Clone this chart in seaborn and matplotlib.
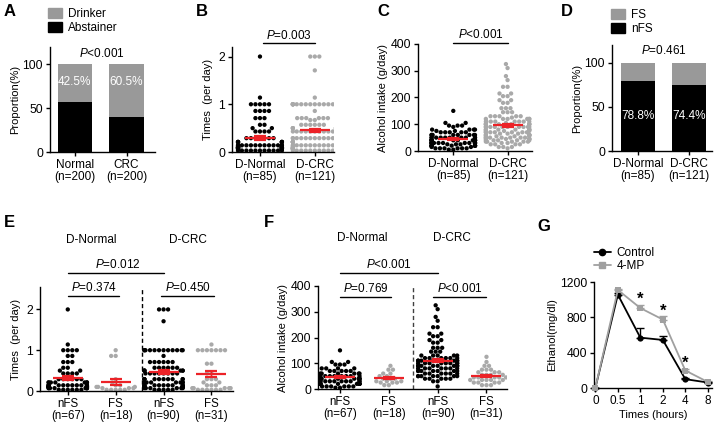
import warnings
import numpy as np
import pandas as pd
import seaborn as sns
import matplotlib.pyplot as plt
from matplotlib.patches import Patch
from matplotlib.lines import Line2D
from matplotlib.ticker import NullLocator

warnings.filterwarnings('ignore')

# ---- data ----
# A: drinker share
a_groups = ['Normal\n(n=200)', 'CRC\n(n=200)']
a_drinker = [42.5, 60.5]

# D: nFS share among drinkers
d_groups = ['D-Normal\n(n=85)', 'D-CRC\n(n=121)']
d_nfs = [78.8, 74.4]

# E: drinking times per day (value levels + counts)
e_labels = ['nFS\n(n=67)', 'FS\n(n=18)', 'nFS\n(n=90)', 'FS\n(n=31)']
e_nfs_normal_vals = [2.0, 1.14, 1.0, 0.86, 0.71, 0.57, 0.5, 0.43, 0.29, 0.21, 0.14, 0.1, 0.07, 0.03]
e_nfs_normal_cnt = [1, 1, 4, 2, 3, 2, 2, 4, 6, 7, 11, 10, 8, 6]
e_fs_normal_vals = [1.0, 0.86, 0.29, 0.21, 0.14, 0.1, 0.07, 0.03]
e_fs_normal_cnt = [1, 2, 1, 1, 2, 3, 3, 5]
e_nfs_crc_vals = [2.0, 1.71, 1.0, 0.86, 0.71, 0.57, 0.5, 0.43, 0.29, 0.21, 0.14, 0.1, 0.07, 0.03]
e_nfs_crc_cnt = [3, 1, 12, 1, 6, 6, 6, 8, 10, 8, 10, 8, 6, 5]
e_fs_crc_vals = [1.14, 1.0, 0.67, 0.43, 0.29, 0.21, 0.14, 0.07, 0.03]
e_fs_crc_cnt = [1, 7, 2, 2, 3, 2, 3, 5, 6]

# F: alcohol intake g/day (value levels + counts)
f_nfs_normal_vals = [150, 105, 95, 80, 70, 60, 50, 40, 30, 20, 10, 5]
f_nfs_normal_cnt = [1, 2, 3, 4, 5, 6, 8, 10, 10, 10, 6, 2]
f_fs_normal_vals = [90, 75, 60, 50, 40, 30, 25, 15]
f_fs_normal_cnt = [1, 2, 2, 2, 3, 3, 3, 2]
f_nfs_crc_vals = [325, 310, 280, 265, 240, 215, 205, 190, 180, 160, 145, 130, 120,
                  110, 100, 90, 80, 70, 60, 50, 40, 30, 10]
f_nfs_crc_cnt = [1, 1, 1, 1, 2, 2, 2, 2, 2, 3, 3, 5, 6, 8, 8, 8, 7, 7, 6, 7, 5, 2, 1]
f_fs_crc_vals = [125, 105, 90, 75, 65, 55, 45, 35, 25, 15]
f_fs_crc_cnt = [1, 1, 2, 3, 3, 4, 5, 5, 4, 3]

# G: blood ethanol
g_times = [0, 0.5, 1, 2, 4, 8]
g_control = [0, 1057, 570, 544, 100, 62]
g_control_err = [0, 20, 105, 45, 10, 8]
g_4mp = [0, 1110, 905, 775, 198, 68]
g_4mp_err = [0, 15, 30, 38, 12, 8]

GRAY = '#999999'
DOT_GRAY = '#a9a9a9'
RED = '#ec2227'

sns.set_style('ticks')
plt.rcParams['font.family'] = ['Liberation Sans', 'DejaVu Sans']
plt.rcParams['mathtext.fontset'] = 'custom'
plt.rcParams['mathtext.rm'] = 'Liberation Sans'
plt.rcParams['mathtext.it'] = 'Liberation Sans:italic'
plt.rcParams['font.size'] = 8
plt.rcParams['text.color'] = 'black'
plt.rcParams['axes.labelcolor'] = 'black'
plt.rcParams['xtick.color'] = 'black'
plt.rcParams['ytick.color'] = 'black'
plt.rcParams['axes.edgecolor'] = 'black'
plt.rcParams['xtick.major.size'] = 3
plt.rcParams['ytick.major.size'] = 3

W, H = 720, 423
fig = plt.figure(figsize=(7.2, 4.23), dpi=100)


def px_axes(l, t, r, b):
    return fig.add_axes([l / W, 1 - b / H, (r - l) / W, (b - t) / H])


def expand(vals, cnt):
    return np.repeat(vals, cnt)


def style(ax, xsize=8.5):
    sns.despine(ax=ax)
    ax.tick_params(axis='y', labelsize=8.8, width=1, pad=2)
    ax.tick_params(axis='x', labelsize=xsize, width=1, pad=2)
    for s in ['left', 'bottom']:
        ax.spines[s].set_linewidth(1)
    for lbl in ax.get_xticklabels():
        lbl.set_linespacing(1.0)


def ptext(ax, x, y, s):
    ax.text(x, y, s, ha='center', va='bottom', fontsize=8.5, clip_on=False)


def pline(ax, x0, x1, y):
    ax.plot([x0, x1], [y, y], color='black', lw=1, clip_on=False)


def stacked(ax, groups, bottom_vals, labels_y, label_vals):
    df = pd.DataFrame({'group': groups, 'total': [100] * len(groups), 'bottom': bottom_vals})
    sns.barplot(data=df, x='group', y='total', color=GRAY, width=0.66, ax=ax,
                saturation=1, linewidth=0)
    sns.barplot(data=df, x='group', y='bottom', color='black', width=0.66, ax=ax,
                saturation=1, linewidth=0)
    for i, v in enumerate(label_vals):
        ax.text(i, labels_y, f'{v}%', ha='center', va='center', color='white', fontsize=8.5)
    ax.set_ylim(0, 120)
    ax.set_yticks([0, 50, 100])
    ax.set_xlabel('')
    ax.set_ylabel('Proportion(%)', labelpad=2)
    style(ax)


def dots(ax, df, order, colors, size=3.1, xsize=8.5):
    sns.swarmplot(data=df, x='group', y='value', hue='group', order=order, hue_order=order,
                  palette=dict(zip(order, colors)), size=size, ax=ax, legend=False,
                  linewidth=0, zorder=1)
    stats = df.groupby('group')['value'].agg(['mean', 'sem']).reindex(order)
    ax.errorbar(range(len(order)), stats['mean'], yerr=stats['sem'], fmt='_', ms=21, mew=1.6,
                color=RED, ecolor=RED, elinewidth=1, capsize=4, capthick=1, zorder=5)
    ax.set_xlabel('')
    style(ax, xsize)


# ---- A ----
axA = px_axes(50, 47, 155, 152)
stacked(axA, a_groups, [100 - v for v in a_drinker], 80, a_drinker)
axA.set_xlim(-0.48, 1.55)
axA.text(0.52, 113, '$P$<0.001', ha='center', va='center', fontsize=8.5)
fig.legend(handles=[Patch(color=GRAY, label='Drinker'), Patch(color='black', label='Abstainer')],
           loc='upper left', bbox_to_anchor=(48 / W, 1 - 8 / H), frameon=False, fontsize=8.5,
           handlelength=1.2, handleheight=0.9, handletextpad=0.5, labelspacing=0.15,
           borderaxespad=0, borderpad=0)

# ---- D ----
axD = px_axes(612, 45, 712, 151)
stacked(axD, d_groups, d_nfs, 40, d_nfs)
axD.set_xlim(-0.5, 1.44)
axD.text(0.5, 114, '$P$=0.461', ha='center', va='center', fontsize=8.5)
fig.legend(handles=[Patch(color=GRAY, label='FS'), Patch(color='black', label='nFS')],
           loc='upper left', bbox_to_anchor=(611 / W, 1 - 9 / H), frameon=False, fontsize=8.5,
           handlelength=1.2, handleheight=0.9, handletextpad=0.5, labelspacing=0.15,
           borderaxespad=0, borderpad=0)

# ---- long tables for the dot plots ----
e_df = pd.DataFrame({
    'group': np.repeat(e_labels, [sum(e_nfs_normal_cnt), sum(e_fs_normal_cnt),
                                  sum(e_nfs_crc_cnt), sum(e_fs_crc_cnt)]),
    'value': np.concatenate([expand(e_nfs_normal_vals, e_nfs_normal_cnt),
                             expand(e_fs_normal_vals, e_fs_normal_cnt),
                             expand(e_nfs_crc_vals, e_nfs_crc_cnt),
                             expand(e_fs_crc_vals, e_fs_crc_cnt)]),
})
f_df = pd.DataFrame({
    'group': np.repeat(e_labels, [sum(f_nfs_normal_cnt), sum(f_fs_normal_cnt),
                                  sum(f_nfs_crc_cnt), sum(f_fs_crc_cnt)]),
    'value': np.concatenate([expand(f_nfs_normal_vals, f_nfs_normal_cnt),
                             expand(f_fs_normal_vals, f_fs_normal_cnt),
                             expand(f_nfs_crc_vals, f_nfs_crc_cnt),
                             expand(f_fs_crc_vals, f_fs_crc_cnt)]),
})
four_colors = ['black', DOT_GRAY, 'black', DOT_GRAY]

# B and C pool nFS + FS per group
b_order = ['D-Normal\n(n=85)', 'D-CRC\n(n=121)']
pool = {e_labels[0]: b_order[0], e_labels[1]: b_order[0], e_labels[2]: b_order[1], e_labels[3]: b_order[1]}
b_df = e_df.assign(group=e_df['group'].map(pool))
c_df = f_df.assign(group=f_df['group'].map(pool))

# ---- B ----
axB = px_axes(232, 47, 334, 152)
dots(axB, b_df, b_order, ['black', DOT_GRAY])
axB.set_xlim(-0.51, 1.35)
axB.set_ylim(0, 2.2)
axB.set_yticks([0, 1, 2])
axB.set_ylabel('Times  (per day)', labelpad=4)
pline(axB, 0.05, 1.0, 2.28)
ptext(axB, 0.52, 2.31, '$P$=0.003')

# ---- C ----
axC = px_axes(418, 44, 532, 151)
dots(axC, c_df, b_order, ['black', DOT_GRAY])
axC.set_xlim(-0.65, 1.45)
axC.set_ylim(0, 400)
axC.set_yticks([0, 100, 200, 300, 400])
axC.set_ylabel('Alcohol intake (g/day)', labelpad=2)
pline(axC, 0.0, 1.0, 404)
ptext(axC, 0.5, 412, '$P$<0.001')

# ---- E ----
axE = px_axes(40, 287, 233, 391)
dots(axE, e_df, e_labels, four_colors, xsize=8.3)
axE.set_xlim(-0.58, 3.45)
axE.set_ylim(0, 2.55)
axE.set_yticks([0, 1, 2])
axE.set_ylabel('Times  (per day)', labelpad=4)
axE.axvline(1.55, color='black', ls=(0, (3, 2)), lw=1)
pline(axE, 0, 2, 2.9)
ptext(axE, 1.05, 2.95, '$P$=0.012')
pline(axE, 0, 1.08, 2.32)
ptext(axE, 0.55, 2.37, '$P$=0.374')
pline(axE, 1.95, 3.05, 2.32)
ptext(axE, 2.5, 2.37, '$P$=0.450')
axE.text(0.5, 3.7, 'D-Normal', ha='center', va='center', fontsize=8.5, clip_on=False)
axE.text(2.5, 3.7, 'D-CRC', ha='center', va='center', fontsize=8.5, clip_on=False)

# ---- F ----
axF = px_axes(318, 286, 507, 389)
dots(axF, f_df, e_labels, four_colors, xsize=8.3)
axF.set_xlim(-0.45, 3.42)
axF.set_ylim(0, 400)
axF.set_yticks([0, 100, 200, 300, 400])
axF.set_ylabel('Alcohol intake (g/day)', labelpad=2)
axF.axvline(1.5, color='0.25', ls=(0, (3, 2)), lw=1)
pline(axF, 0, 2, 450)
ptext(axF, 1.0, 458, '$P$<0.001')
pline(axF, 0, 1.05, 358)
ptext(axF, 0.52, 365, '$P$=0.769')
pline(axF, 1.9, 3.0, 358)
ptext(axF, 2.45, 365, '$P$<0.001')
axF.text(0.45, 585, 'D-Normal', ha='center', va='center', fontsize=8.5, clip_on=False)
axF.text(2.3, 585, 'D-CRC', ha='center', va='center', fontsize=8.5, clip_on=False)

# ---- G ----
axG = px_axes(594, 282, 712, 388)
g_df = pd.DataFrame({
    'time': g_times * 2,
    'ethanol': g_control + g_4mp,
    'group': ['Control'] * len(g_times) + ['4-MP'] * len(g_times),
})
g_colors = {'Control': 'black', '4-MP': '#a0a0a0'}
sns.lineplot(data=g_df, x='time', y='ethanol', hue='group', style='group',
             markers={'Control': 'o', '4-MP': 's'}, dashes=False, palette=g_colors,
             markersize=4.5, markeredgewidth=0, lw=1.3, ax=axG, legend=False, zorder=3, clip_on=False)
axG.errorbar(g_times, g_4mp, yerr=[[0] * 6, g_4mp_err], fmt='none', ecolor=g_colors['4-MP'],
             elinewidth=1, capsize=3, zorder=2, clip_on=False)
axG.errorbar(g_times, g_control, yerr=[[0] * 6, g_control_err], fmt='none', ecolor='black',
             elinewidth=1, capsize=3, zorder=2, clip_on=False)
axG.set_xscale('symlog', base=2, linthresh=1, linscale=1)
axG.set_xlim(-0.03, 9.1)
axG.set_xticks(g_times)
axG.set_xticklabels(['0', '0.5', '1', '2', '4', '8'])
axG.xaxis.set_minor_locator(NullLocator())
axG.set_ylim(0, 1200)
axG.set_yticks([0, 400, 800, 1200])
axG.set_xlabel('Times (hours)', labelpad=2)
axG.set_ylabel('Ethanol(mg/dl)', labelpad=2)
style(axG)
for t, y in [(1, 1000), (2, 870), (4, 280)]:
    axG.text(t, y, '*', ha='center', va='center', fontsize=12, fontweight='bold')
axG.legend(handles=[Line2D([], [], color='black', marker='o', ms=4.5, lw=1.3, label='Control'),
                    Line2D([], [], color=g_colors['4-MP'], marker='s', ms=4.5, lw=1.3, label='4-MP')],
           loc='upper left', bbox_to_anchor=(0.0, 1.33), frameon=False, fontsize=8.5,
           handlelength=1.4, handletextpad=0.5, labelspacing=0.1, borderaxespad=0, borderpad=0)

# panel letters
for letter, x, y in [('A', 4, 11), ('B', 196, 11), ('C', 377, 11), ('D', 561, 11),
                     ('E', 4, 222), ('F', 264, 222), ('G', 537, 226)]:
    fig.text(x / W, 1 - y / H, letter, fontsize=12, fontweight='bold', va='center', ha='left')

fig.savefig('out.png', dpi=100)
